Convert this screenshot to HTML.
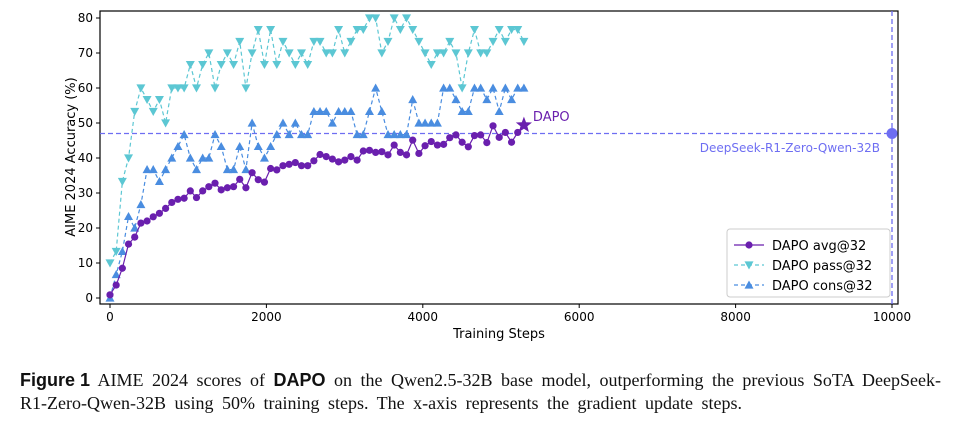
<!DOCTYPE html>
<html><head><meta charset="utf-8"><style>
body{margin:0;background:#fff;width:964px;height:426px;overflow:hidden}
svg text{font-family:"DejaVu Sans","Liberation Sans",sans-serif}
.cap{position:absolute;left:20px;top:369px;width:944px;font-family:"Liberation Serif",serif;font-size:18px;line-height:23px;color:#111;white-space:nowrap;word-spacing:4px}
.cap b{font-family:"Liberation Sans",sans-serif;word-spacing:0}
</style></head><body>
<svg id="chart" width="964" height="360" style="position:absolute;left:0;top:0"></svg>
<div class="cap"><b>Figure 1</b> AIME 2024 scores of <b>DAPO</b> on the Qwen2.5-32B base model, outperforming the previous SoTA DeepSeek-<br>R1-Zero-Qwen-32B using 50% training steps. The x-axis represents the gradient update steps.</div>
<script>
const avgVals=[0.9,3.7,8.5,15.4,17.4,21.4,22,23.2,24.2,25.6,27.3,28.2,28.5,30.6,28.7,30.6,31.8,32.8,30.9,31.5,31.8,33.9,31.5,35.8,33.8,33.1,37.0,36.6,37.8,38.2,38.7,37.8,37.8,39.2,41,40.4,
39.7,38.9,39.4,40.4,39.4,42,42.2,41.6,41.8,40.9,43.7,41.6,40.9,45.1,41.3,43.5,44.7,43.7,43.9,45.8,46.6,44.5,43.2,46.4,46.6,44.4,49.2,45.9,47.3,44.5,47.3,49.4];
const passVals=[10,13.3,33.3,40,53.3,60,56.7,53.3,56.7,50,60,60,60,66.7,60,66.7,70,60,66.7,70,66.7,73.3,60,70,76.7,66.7,76.7,66.7,73.3,70,66.7,70,66.7,73.3,73.3,70,
70,76.7,70,73.3,76.7,76.7,80,80,70,73.3,80,76.7,80,76.7,73.3,70,66.7,70,70,73.3,70,60,70,76.7,70,70,73.3,76.7,73.3,76.7,76.7,73.3];
const consVals=[0,6.7,13.3,23.3,20,26.7,36.7,36.7,33.3,36.7,40,43.3,46.7,40,36.7,40,40,46.7,43.3,36.7,36.7,43.3,36.7,50,43.3,40,43.3,46.7,50,46.7,50,46.7,46.7,53.3,53.3,53.3,
50,53.3,53.3,53.3,46.7,46.7,53.3,60,53.3,46.7,46.7,46.7,46.7,56.7,50,50,50,50,60,60,56.7,53.3,53.3,60,60,56.7,60,53.3,60,56.7,60,60];
const stepSize=79;
const xTicks=[0,2000,4000,6000,8000,10000];
const yTicks=[0,10,20,30,40,50,60,70,80];
const refValue=47, refStep=10000;
const NS='http://www.w3.org/2000/svg';
const svg=document.getElementById('chart');
const X=s=>110+s*0.0782, Y=v=>298-v*3.5;
function el(t,a,p){const e=document.createElementNS(NS,t);for(const k in a)e.setAttribute(k,a[k]);(p||svg).appendChild(e);return e;}
const frame=el('rect',{x:100,y:11,width:798,height:293,fill:'none',stroke:'#000','stroke-width':1.2});


xTicks.forEach(t=>{el('line',{x1:X(t),x2:X(t),y1:304,y2:308,stroke:'#000'});
 const tx=el('text',{x:X(t),y:321,'font-size':12,'text-anchor':'middle'});tx.textContent=t;
 
 });
yTicks.forEach(t=>{el('line',{x1:96,x2:100,y1:Y(t),y2:Y(t),stroke:'#000'});
 const tx=el('text',{x:93,y:Y(t)+4,'font-size':12,'text-anchor':'end'});tx.textContent=t;
 
 });
const xl=el('text',{x:499,y:338,'font-size':13,'text-anchor':'middle'});xl.textContent='Training Steps';


const yl=el('text',{x:0,y:0,'font-size':13,'text-anchor':'middle',transform:'translate(75,157) rotate(-90)'});yl.textContent='AIME 2024 Accuracy (%)';


const rc='#6e6ef2';
const hl=el('line',{x1:100,x2:898,y1:Y(refValue),y2:Y(refValue),stroke:rc,'stroke-width':1.3,'stroke-dasharray':'5,3'});


const vl=el('line',{x1:X(refStep),x2:X(refStep),y1:11,y2:304,stroke:rc,'stroke-width':1.3,'stroke-dasharray':'5,3'});


const rp=el('circle',{cx:X(refStep),cy:Y(refValue),r:5.5,fill:rc});


const rt=el('text',{x:880,y:152,'font-size':12,'text-anchor':'end',fill:rc});rt.textContent='DeepSeek-R1-Zero-Qwen-32B';


function tri(x,y,up,c){const s=4.5;const pts=up?`${x},${y-s} ${x-s},${y+s*0.8} ${x+s},${y+s*0.8}`:`${x},${y+s} ${x-s},${y-s*0.8} ${x+s},${y-s*0.8}`;return el('polygon',{points:pts,fill:c});}
function series(vals,c,dash,marker,name){
 const pts=vals.map((v,i)=>X(i*stepSize)+','+Y(v)).join(' ');
 const pl=el('polyline',{points:pts,fill:'none',stroke:c,'stroke-width':1.2,'stroke-dasharray':dash||'none'});
 
 
 vals.forEach((v,i)=>{let m;const x=X(i*stepSize),y=Y(v);
  if(marker==='o')m=el('circle',{cx:x,cy:y,r:3.6,fill:c});else m=tri(x,y,marker==='^',c);
  
  });
}
series(passVals,'#5cc7d3','4,3','v','pass-at-32');
series(consVals,'#4a8de0','4,3','^','cons-at-32');
series(avgVals.slice(0,-1),'#6a1fae',null,'o','avg-at-32');
const li=avgVals.length-1;
el('line',{x1:X((li-1)*stepSize),y1:Y(avgVals[li-1]),x2:X(li*stepSize),y2:Y(avgVals[li]),stroke:'#6a1fae','stroke-width':1.2});
(function(){const cx=X(li*stepSize),cy=Y(avgVals[li]);let p=[];for(let k=0;k<10;k++){const r=k%2?3.6:8.5,a=-Math.PI/2+k*Math.PI/5;p.push((cx+r*Math.cos(a))+','+(cy+r*Math.sin(a)));}
 const st=el('polygon',{points:p.join(' '),fill:'#6a1fae'});
 
 
 const t=el('text',{x:cx+9,y:cy-4,'font-size':13,fill:'#6a1fae'});t.textContent='DAPO';
 
 })();
const lg=el('g',{});


el('rect',{x:727,y:229,width:163,height:68,rx:3,fill:'#fff',stroke:'#ccc'},lg);
[['DAPO avg@32','#6a1fae',null,'o'],['DAPO pass@32','#5cc7d3','4,3','v'],['DAPO cons@32','#4a8de0','4,3','^']].forEach((d,i)=>{
 const y=245+i*20;
 el('line',{x1:734,x2:764,y1:y,y2:y,stroke:d[1],'stroke-width':1.2,'stroke-dasharray':d[2]||'none'},lg);
 if(d[3]==='o')el('circle',{cx:749,cy:y,r:3.6,fill:d[1]},lg);else lg.appendChild(tri(749,y,d[3]==='^',d[1]));
 const t=el('text',{x:772,y:y+5,'font-size':13},lg);t.textContent=d[0];
 
 
});
</script>
</body></html>
